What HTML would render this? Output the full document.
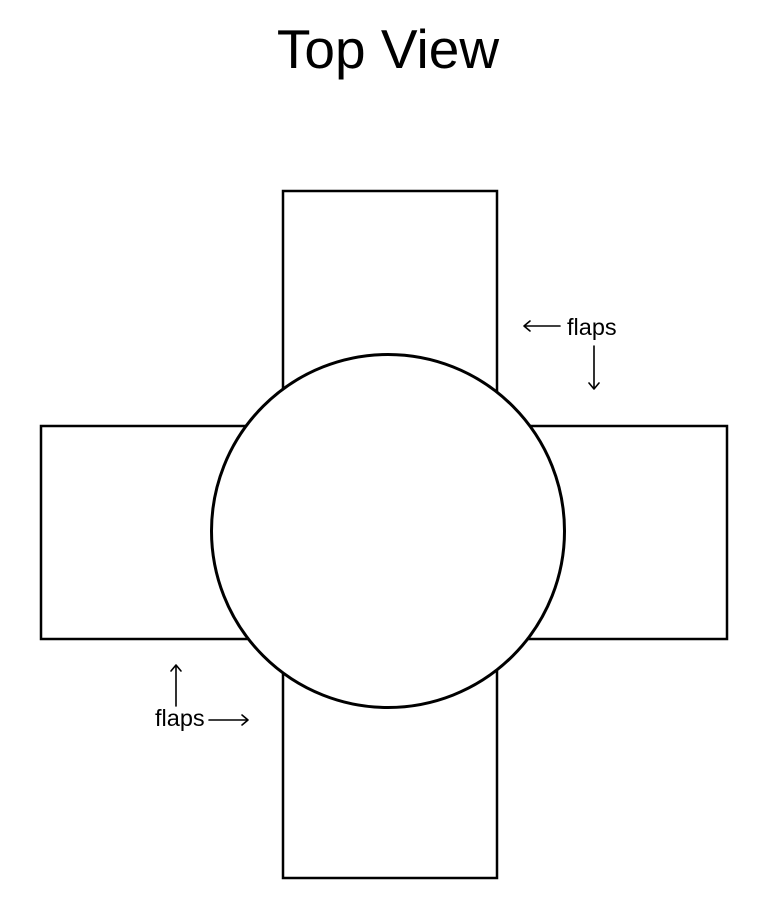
<!DOCTYPE html>
<html><head><style>body{margin:0;background:#fff}</style></head><body>
<svg width="757" height="900" xmlns="http://www.w3.org/2000/svg" style="display:block">
<text x="388" y="68" text-anchor="middle" font-family="Liberation Sans, sans-serif" font-size="55">Top View</text>
<g fill="none" stroke="#000" stroke-width="2.5">
<rect x="283" y="191" width="214" height="300"/>
<rect x="283" y="578" width="214" height="300"/>
<rect x="41" y="426" width="300" height="213"/>
<rect x="430" y="426" width="297" height="213"/>
</g>
<circle cx="388" cy="531" r="176.5" fill="#fff" stroke="#000" stroke-width="3"/>
<g fill="none" stroke="#000" stroke-width="1.6" stroke-linecap="round" stroke-linejoin="round">
<path d="M524 326H560M530 321L524 326L530 331"/>
<path d="M594 346V389M589 383L594 389L599 383"/>
<path d="M176 665V706M171 671L176 665L181 671"/>
<path d="M209 720H248M242 715L248 720L242 725"/>
</g>
<g font-family="Liberation Sans, sans-serif" font-size="23.5">
<text x="567" y="335">flaps</text>
<text x="155" y="726">flaps</text>
</g>
</svg>
</body></html>
